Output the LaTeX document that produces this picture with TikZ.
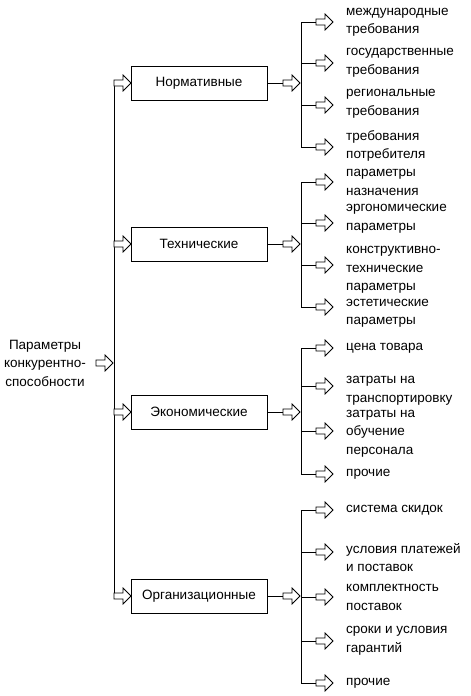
\documentclass[tikz,border=0pt]{standalone}
\usepackage{fontspec}
\setmainfont{Liberation Sans}
\begin{document}
\begin{tikzpicture}[x=1pt,y=-1pt,
  every node/.style={font=\fontsize{13.5}{18.5}\selectfont, inner sep=0pt},
  catbox/.style={draw, minimum width=136pt, minimum height=34pt},
  leaf/.style={anchor=west, align=left},
  conn/.style={line width=0.8pt},
  barrow/.pic={\draw[line width=0.8pt, fill=white] (0,-3)--(9,-3)--(9,-8)--(17,0)--(9,8)--(9,3)--(0,3)--cycle;}]
\useasboundingbox[fill=white] (0,0) rectangle (471,696);

% root
\node[align=center] (root) at (45,363) {Параметры\\конкурентно-\\способности};
\pic at (96,363) {barrow};
\coordinate (mtop) at (114,83);
\coordinate (mbot) at (114,596);
\draw[conn] (mtop) -- (mbot);

% category boxes
\node[catbox] (n1) at (199,83) {Нормативные};
\node[catbox] (n2) at (199,244) {Технические};
\node[catbox] (n3) at (199,412) {Экономические};
\node[catbox] (n4) at (199,596) {Организационные};

\foreach \n/\y in {n1/83,n2/244,n3/412,n4/596}{
  \pic at (114,\y) {barrow};
  \coordinate (\n o) at (283,\y);
  \draw[conn] (\n.east) -- (\n o);
  \pic at (\n o) {barrow};
}

% sub vertical lines
\coordinate (s1t) at (301,22);  \coordinate (s1b) at (301,147);
\coordinate (s2t) at (301,182); \coordinate (s2b) at (301,307);
\coordinate (s3t) at (301,348); \coordinate (s3b) at (301,474);
\coordinate (s4t) at (301,510); \coordinate (s4b) at (301,683);
\draw[conn] (s1t) -- (s1b);
\draw[conn] (s2t) -- (s2b);
\draw[conn] (s3t) -- (s3b);
\draw[conn] (s4t) -- (s4b);

% children branches
\foreach \y in {22,63,105,147, 182,223,265,307, 348,386,431,474, 510,552,597,641,683}{
  \coordinate (b) at (301,\y);
  \coordinate (c) at (316,\y);
  \draw[conn] (b) -- (c);
  \pic at (c) {barrow};
}

% leaf labels
\node[leaf] (l11) at (346,22.5) {международные\\требования};
\node[leaf] (l12) at (346,63) {государственные\\требования};
\node[leaf] (l13) at (346,104) {региональные\\требования};
\node[leaf] (l14) at (346,146) {требования\\потребителя};
\node[leaf] (l21) at (346,182.5) {параметры\\назначения};
\node[leaf] (l22) at (346,219) {эргономические\\параметры};
\node[leaf] (l23) at (346,270) {конструктивно-\\технические\\параметры};
\node[leaf] (l24) at (346,313.5) {эстетические\\параметры};
\node[leaf] (l31) at (346,348) {цена товара};
\node[leaf] (l32) at (346,391) {затраты на\\транспортировку};
\node[leaf] (l33) at (346,433.5) {затраты на\\обучение\\персонала};
\node[leaf] (l34) at (346,474) {прочие};
\node[leaf] (l41) at (346,510) {система скидок};
\node[leaf] (l42) at (346,557.5) {условия платежей\\и поставок};
\node[leaf] (l43) at (346,597.5) {комплектность\\поставок};
\node[leaf] (l44) at (346,641) {сроки и условия\\гарантий};
\node[leaf] (l45) at (346,683) {прочие};
\end{tikzpicture}
\end{document}
